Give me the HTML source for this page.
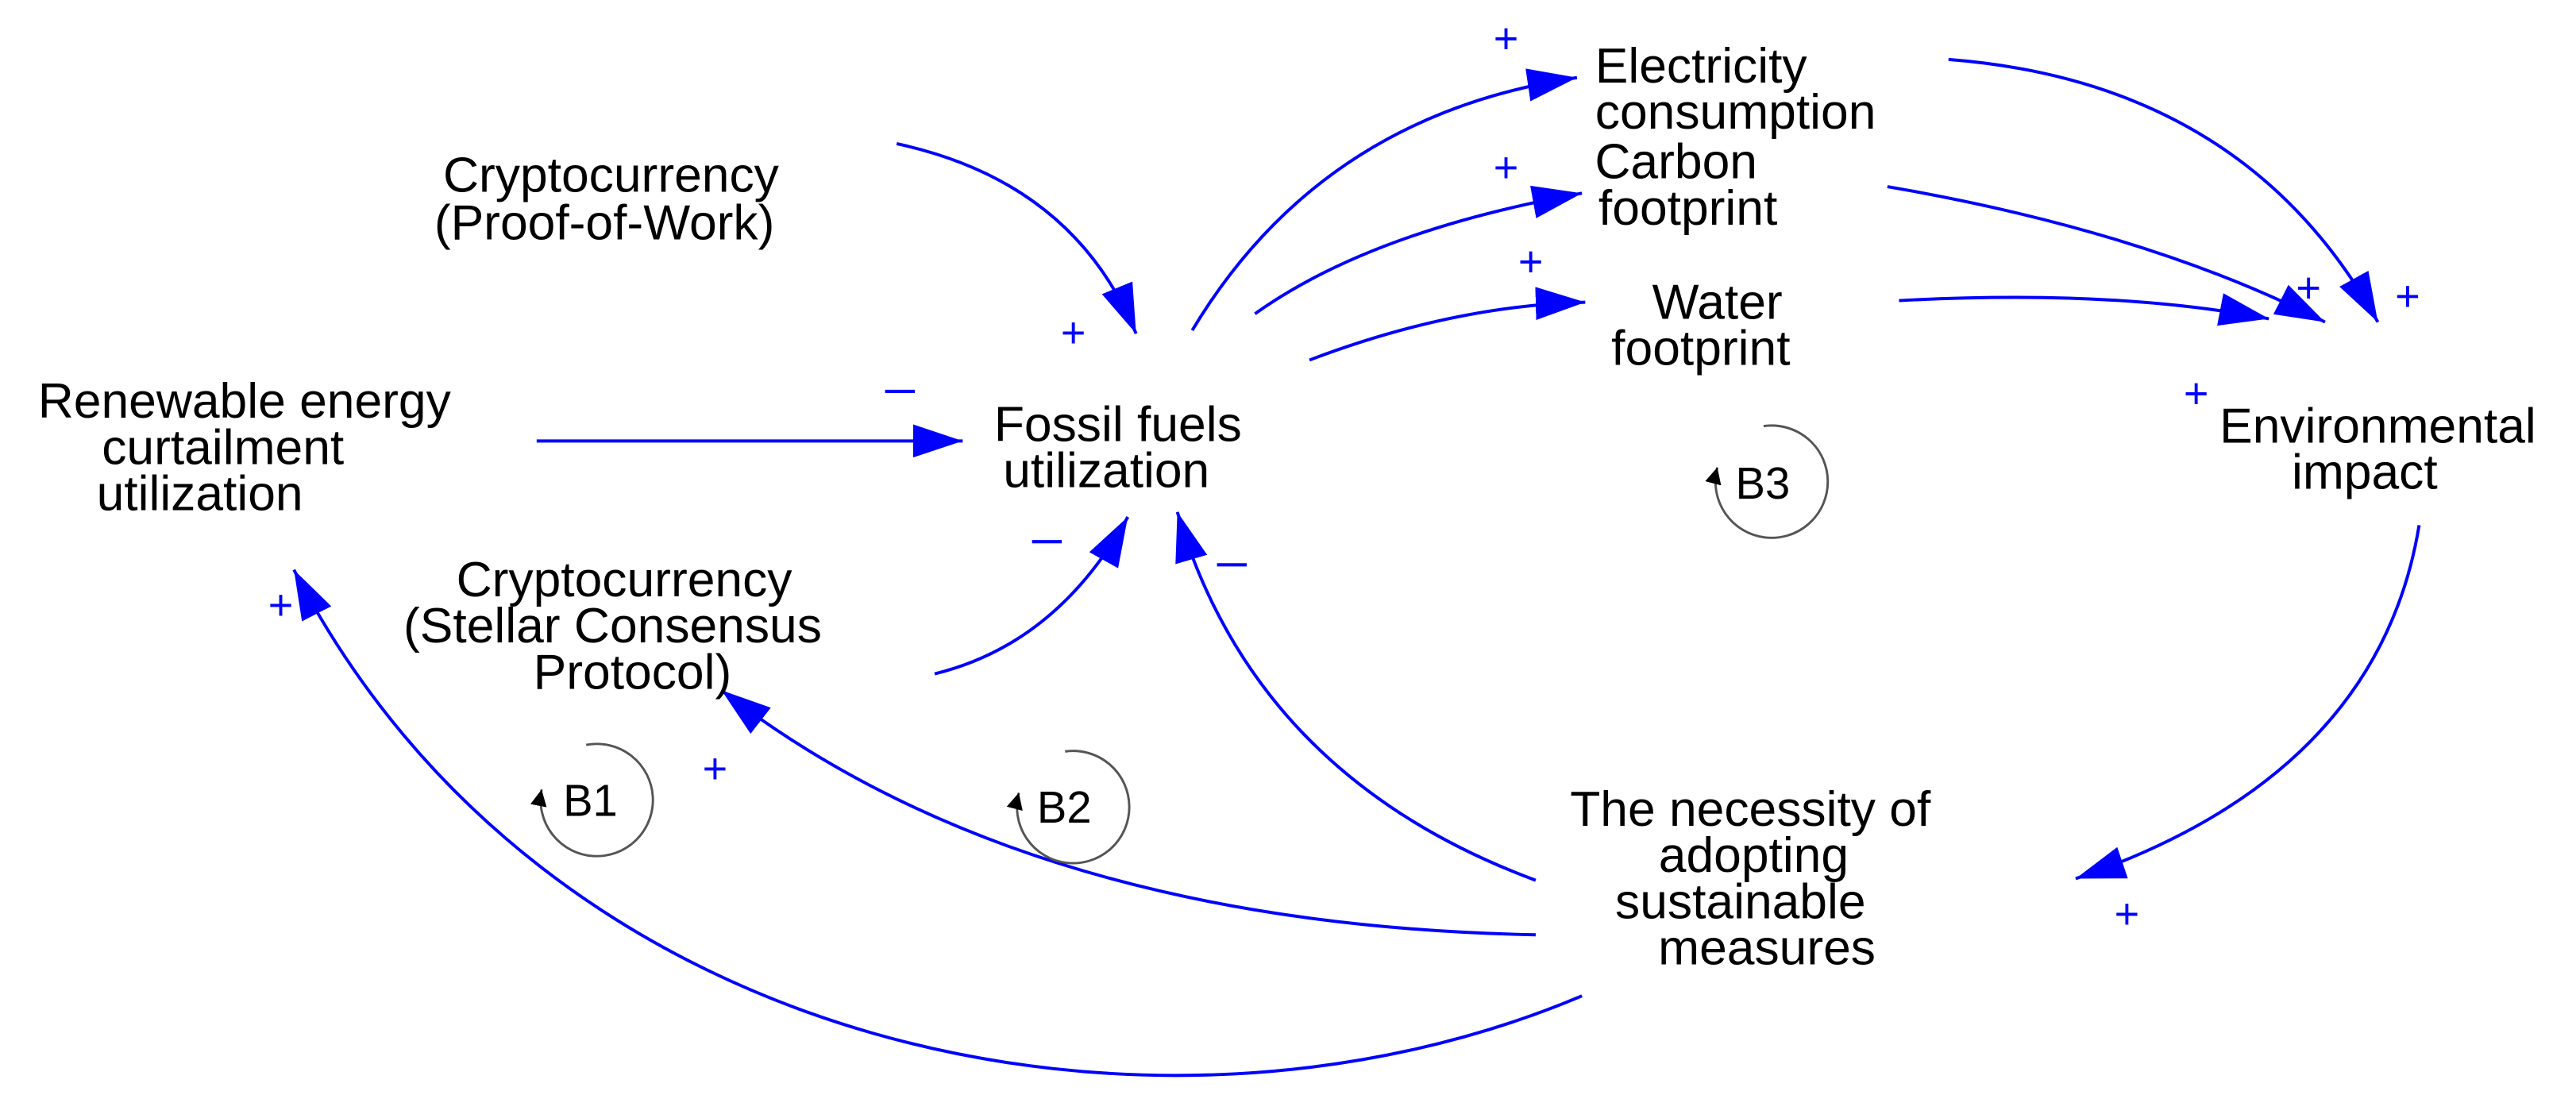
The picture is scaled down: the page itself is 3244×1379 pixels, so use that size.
<!DOCTYPE html>
<html><head><meta charset="utf-8"><style>
html,body{margin:0;padding:0;background:#fff;}
svg{display:block;}
text{font-family:"Liberation Sans",Arial,sans-serif;}
</style></head><body>
<svg width="3244" height="1379" viewBox="0 0 1560 663" preserveAspectRatio="none" xmlns="http://www.w3.org/2000/svg">
<defs>
<marker id="a" markerUnits="userSpaceOnUse" markerWidth="32" markerHeight="22" refX="30" refY="10" orient="auto">
<path d="M0,0 L30,10 L0,20 Z" fill="#0000ff"/>
</marker>
<marker id="k" markerUnits="userSpaceOnUse" markerWidth="12" markerHeight="12" refX="10" refY="5" orient="auto">
<path d="M0,0 L10,5 L0,10 Z" fill="#000"/>
</marker>
</defs>
<g fill="none" stroke="#0000ff" stroke-width="1.9" marker-end="url(#a)">
<path d="M543,87 Q650,110 688,202"/>
<path d="M325,267 L583,267"/>
<path d="M566,408 Q640,390 683,313"/>
<path d="M930,533 Q760,470 713,310"/>
<path d="M930,566 Q620,560 437,418"/>
<path d="M958,603 C700,712 330,640 178,345"/>
<path d="M722,200 Q800,70 955,47"/>
<path d="M760,190 Q830,140 958,117"/>
<path d="M793,218 Q880,185 960,183"/>
<path d="M1180,36 Q1360,50 1440,195"/>
<path d="M1143,113 Q1300,140 1408,195"/>
<path d="M1150,182 Q1280,175 1374,193"/>
<path d="M1465,318 Q1440,470 1257,532"/>
</g>
<g font-size="30" fill="#000" text-anchor="middle">
<text x="370" y="116">Cryptocurrency</text>
<text x="366" y="145">(Proof-of-Work)</text>
<text x="148" y="253">Renewable energy</text>
<text x="135" y="281">curtailment</text>
<text x="121" y="309">utilization</text>
<text x="677" y="267">Fossil fuels</text>
<text x="670" y="295">utilization</text>
<text x="378" y="361">Cryptocurrency</text>
<text x="371" y="389">(Stellar Consensus</text>
<text x="383" y="417">Protocol)</text>
<text x="966" y="50" text-anchor="start">Electricity</text>
<text x="966" y="78" text-anchor="start">consumption</text>
<text x="1015" y="108">Carbon</text>
<text x="968" y="136" text-anchor="start">footprint</text>
<text x="1040" y="193">Water</text>
<text x="1030" y="221">footprint</text>
<text x="1440" y="268">Environmental</text>
<text x="1432" y="296">impact</text>
<text x="1060" y="500">The necessity of</text>
<text x="1062" y="528">adopting</text>
<text x="1054" y="556">sustainable</text>
<text x="1070" y="584">measures</text>
</g>
<g font-size="26" fill="#0000ff" text-anchor="middle">
<text x="650" y="210">+</text>
<text x="912" y="32">+</text>
<text x="912" y="110">+</text>
<text x="927" y="167">+</text>
<text x="1398" y="183">+</text>
<text x="1458" y="188">+</text>
<text x="1330" y="247">+</text>
<text x="1288" y="562">+</text>
<text x="433" y="474">+</text>
<text x="170" y="375">+</text>
</g>
<g stroke="#0000ff" stroke-width="2">
<line x1="536" y1="237" x2="554" y2="237"/>
<line x1="625" y1="328" x2="643" y2="328"/>
<line x1="737" y1="342" x2="755" y2="342"/>
</g>
<g fill="none" stroke="#555" stroke-width="1.4">
<path d="M355,451 A34,34 0 1 1 328,478" marker-end="url(#k)"/>
<path d="M645,455 A34,34 0 1 1 617,480" marker-end="url(#k)"/>
<path d="M1068,258 A34,34 0 1 1 1040,283" marker-end="url(#k)"/>
</g>
<g font-size="27" fill="#000">
<text x="341" y="494">B1</text>
<text x="628" y="498">B2</text>
<text x="1051" y="302">B3</text>
</g>
</svg>
</body></html>
